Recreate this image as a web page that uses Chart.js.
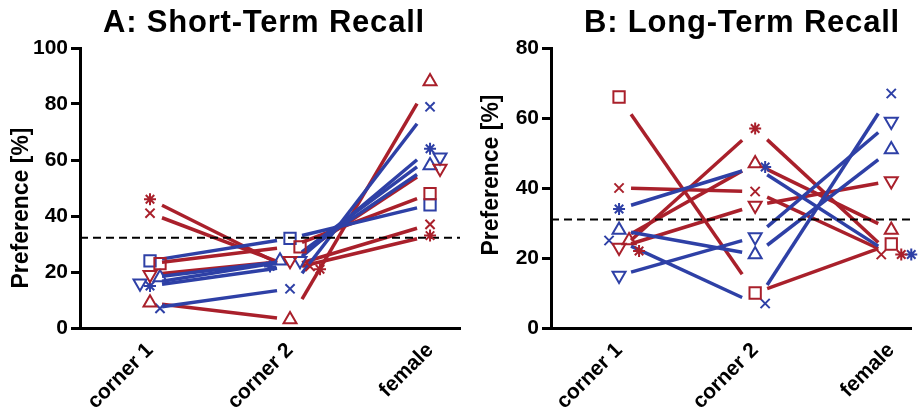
<!DOCTYPE html>
<html>
<head>
<meta charset="utf-8">
<script src="https://cdn.jsdelivr.net/npm/chart.js@4.4.1/dist/chart.umd.min.js"></script>
<style>
  html, body { margin: 0; padding: 0; background: #ffffff; }
  #wrap { position: relative; width: 921px; height: 410px; overflow: hidden; }
  canvas { position: absolute; top: 0; }
</style>
</head>
<body>
<div id="wrap">
  <canvas id="chartA" width="470" height="410" style="left:0px"></canvas>
  <canvas id="chartB" width="451" height="410" style="left:470px"></canvas>
</div>
<script>
// ---------- data ----------
const categories = ['corner 1', 'corner 2', 'female'];
const yTicksA = [0, 20, 40, 60, 80, 100];
const yTicksB = [0, 20, 40, 60, 80];
const titleA = 'A: Short-Term Recall';
const titleB = 'B: Long-Term Recall';
const yTitle = 'Preference [%]';

// A: Short-term recall, values at [corner 1, corner 2, female]
const shortRedStar    = [46, 21, 33];
const shortRedCross   = [41, 22, 37];
const shortRedSquare  = [23, 29, 48];
const shortRedDown    = [19, 24, 57];
const shortRedUp      = [9, 3, 88];
const shortBlueStar   = [15, 22, 64];
const shortBlueCross  = [7, 14, 79];
const shortBlueSquare = [24, 32, 44];
const shortBlueDown   = [16, 24, 61];
const shortBlueUp     = [18, 24, 58];
const shortChance = 32.2;

// B: Long-term recall, values at [corner 1, corner 2, female]
const longRedStar   = [22, 57, 21];
const longRedCross  = [40, 39, 21];
const longRedSquare = [66, 10, 24];
const longRedDown   = [23, 35, 42];
const longRedUp     = [25, 47, 28];
const longBlueStar  = [34, 46, 21];
const longBlueCross = [25, 7, 67];
const longBlueDown  = [15, 26, 59];
const longBlueUp    = [28, 21, 51];
const longChance = 31;

// ---------- styles ----------
const RED = '#A9202B';
const BLUE = '#2E40A6';
const FONT = "'Liberation Sans', Arial, Helvetica, sans-serif";
const markerStyle = {
  star:   { pointStyle: 'star', pointRadius: 6, pointRotation: 0 },
  cross:  { pointStyle: 'crossRot', pointRadius: 6.5, pointRotation: 0 },
  square: { pointStyle: 'rect', pointRadius: 8, pointRotation: 0 },
  up:     { pointStyle: 'triangle', pointRadius: 7.5, pointRotation: 0 },
  down:   { pointStyle: 'triangle', pointRadius: 7.5, pointRotation: 180 }
};

const subjectsA = [
  [shortRedStar, RED, 'star'], [shortRedCross, RED, 'cross'], [shortRedSquare, RED, 'square'],
  [shortRedDown, RED, 'down'], [shortRedUp, RED, 'up'],
  [shortBlueStar, BLUE, 'star'], [shortBlueCross, BLUE, 'cross'], [shortBlueSquare, BLUE, 'square'],
  [shortBlueDown, BLUE, 'down'], [shortBlueUp, BLUE, 'up']
];
const subjectsB = [
  [longRedStar, RED, 'star'], [longRedCross, RED, 'cross'], [longRedSquare, RED, 'square'],
  [longRedDown, RED, 'down'], [longRedUp, RED, 'up'],
  [longBlueStar, BLUE, 'star'], [longBlueCross, BLUE, 'cross'],
  [longBlueDown, BLUE, 'down'], [longBlueUp, BLUE, 'up']
];

// ---------- plugins ----------
const trimmedLines = {
  id: 'trimmedLines',
  beforeDatasetsDraw(chart, args, opts) {
    const { ctx } = chart;
    const xs = chart.scales.x, ys = chart.scales.y;
    ctx.save();
    ctx.lineWidth = 3.5;
    ctx.lineCap = 'butt';
    chart.data.datasets.forEach(ds => {
      if (!ds.values) return;
      ctx.strokeStyle = ds.pointBorderColor;
      for (let i = 0; i < ds.values.length - 1; i++) {
        const x0 = xs.getPixelForValue(i + 1), y0 = ys.getPixelForValue(ds.values[i]);
        const x1 = xs.getPixelForValue(i + 2), y1 = ys.getPixelForValue(ds.values[i + 1]);
        const dx = x1 - x0, a = 12 / dx, b = 13 / dx;
        ctx.beginPath();
        ctx.moveTo(x0 + dx * a, y0 + (y1 - y0) * a);
        ctx.lineTo(x0 + dx * (1 - b), y0 + (y1 - y0) * (1 - b));
        ctx.stroke();
      }
    });
    ctx.restore();
  }
};

const panelText = {
  id: 'panelText',
  afterDraw(chart, args, opts) {
    const { ctx } = chart;
    ctx.save();
    ctx.fillStyle = '#000';
    ctx.font = 'bold 31px ' + FONT;
    ctx.textAlign = 'center';
    ctx.textBaseline = 'alphabetic';
    try { ctx.letterSpacing = '0.8px'; } catch (e) {}
    ctx.fillText(opts.title, opts.titleX, 32);
    try { ctx.letterSpacing = '0px'; } catch (e) {}
    ctx.translate(22, opts.yTitleY);
    ctx.rotate(-Math.PI / 2);
    ctx.font = 'bold 23px ' + FONT;
    ctx.textBaseline = 'middle';
    ctx.fillText(yTitle, 0, 0);
    ctx.restore();
  }
};

function buildChart(canvasId, subjects, chance, yMax, yTicks, xMax, yWidth, padRight, title, titleX, yTitleY) {
  const datasets = [];
  datasets.push({
    type: 'line',
    data: [{ x: 0.5, y: chance }, { x: xMax, y: chance }],
    borderColor: '#000',
    borderWidth: 2,
    borderDash: [8, 5],
    pointRadius: 0,
    order: 1
  });
  subjects.forEach(([values, color, marker]) => {
    const m = markerStyle[marker];
    datasets.push({
      type: 'scatter',
      values: values,
      data: values.map((v, i) => ({ x: i + 1, y: v })),
      pointStyle: m.pointStyle,
      pointRadius: m.pointRadius,
      pointRotation: m.pointRotation,
      pointBorderColor: color,
      pointBackgroundColor: 'rgba(0,0,0,0)',
      pointBorderWidth: 2,
      showLine: false,
      clip: false,
      order: 0
    });
  });

  const chart = new Chart(document.getElementById(canvasId), {
    type: 'scatter',
    data: { datasets },
    plugins: [trimmedLines, panelText],
    options: {
      responsive: false,
      animation: false,
      devicePixelRatio: 1,
      events: [],
      layout: { padding: { top: 48, right: padRight, bottom: 0, left: 0 } },
      plugins: {
        legend: { display: false },
        tooltip: { enabled: false },
        title: { display: false },
        panelText: { title, titleX, yTitleY }
      },
      scales: {
        x: {
          type: 'linear',
          min: 0.5,
          max: xMax,
          afterBuildTicks: s => { s.ticks = categories.map((c, i) => ({ value: i + 1 })); },
          afterFit: s => { s.height = 82; },
          grid: { display: false, drawTicks: false },
          border: { display: true, color: '#000', width: 3 },
          ticks: {
            autoSkip: false,
            minRotation: 45,
            maxRotation: 45,
            padding: 10,
            color: '#000',
            font: { family: FONT, size: 21, weight: 'bold' },
            callback: v => categories[Math.round(v) - 1]
          }
        },
        y: {
          min: 0,
          max: yMax,
          afterBuildTicks: s => { s.ticks = yTicks.map(v => ({ value: v })); },
          afterFit: s => { s.width = yWidth; },
          grid: { display: true, drawOnChartArea: false, drawTicks: true, tickLength: 9, tickWidth: 3, color: '#000' },
          border: { display: true, color: '#000', width: 3 },
          ticks: {
            padding: 3,
            color: '#000',
            font: { family: FONT, size: 21, weight: 'bold' }
          }
        }
      }
    }
  });

  // spread overlapping markers sideways (beeswarm style) using the chart's own scales
  const xs = chart.scales.x, ys = chart.scales.y;
  const pxPerX = xs.getPixelForValue(2) - xs.getPixelForValue(1);
  const STEP = 10, MIN_DY = 11;
  const markerSets = chart.data.datasets.filter(d => d.values);
  for (let c = 0; c < categories.length; c++) {
    const items = markerSets.map(d => ({ d, py: ys.getPixelForValue(d.values[c]) }));
    items.sort((p, q) => p.py - q.py);
    const placed = [];
    items.forEach(it => {
      const cands = [0, 1, -1, 2, -2, 3, -3];
      for (const k of cands) {
        const px = k * STEP;
        if (placed.every(p => Math.abs(p.px - px) >= STEP * 0.99 || Math.abs(p.py - it.py) >= MIN_DY)) {
          it.px = px; placed.push(it); break;
        }
      }
      it.d.data[c].x = c + 1 + it.px / pxPerX;
    });
  }
  chart.update('none');
  return chart;
}

buildChart('chartA', subjectsA, shortChance, 100, yTicksA, 3.214, 80, 10, titleA, 264, 208);
buildChart('chartB', subjectsB, longChance, 80, yTicksB, 3.145, 81, 0, titleB, 272, 175);
</script>
</body>
</html>
